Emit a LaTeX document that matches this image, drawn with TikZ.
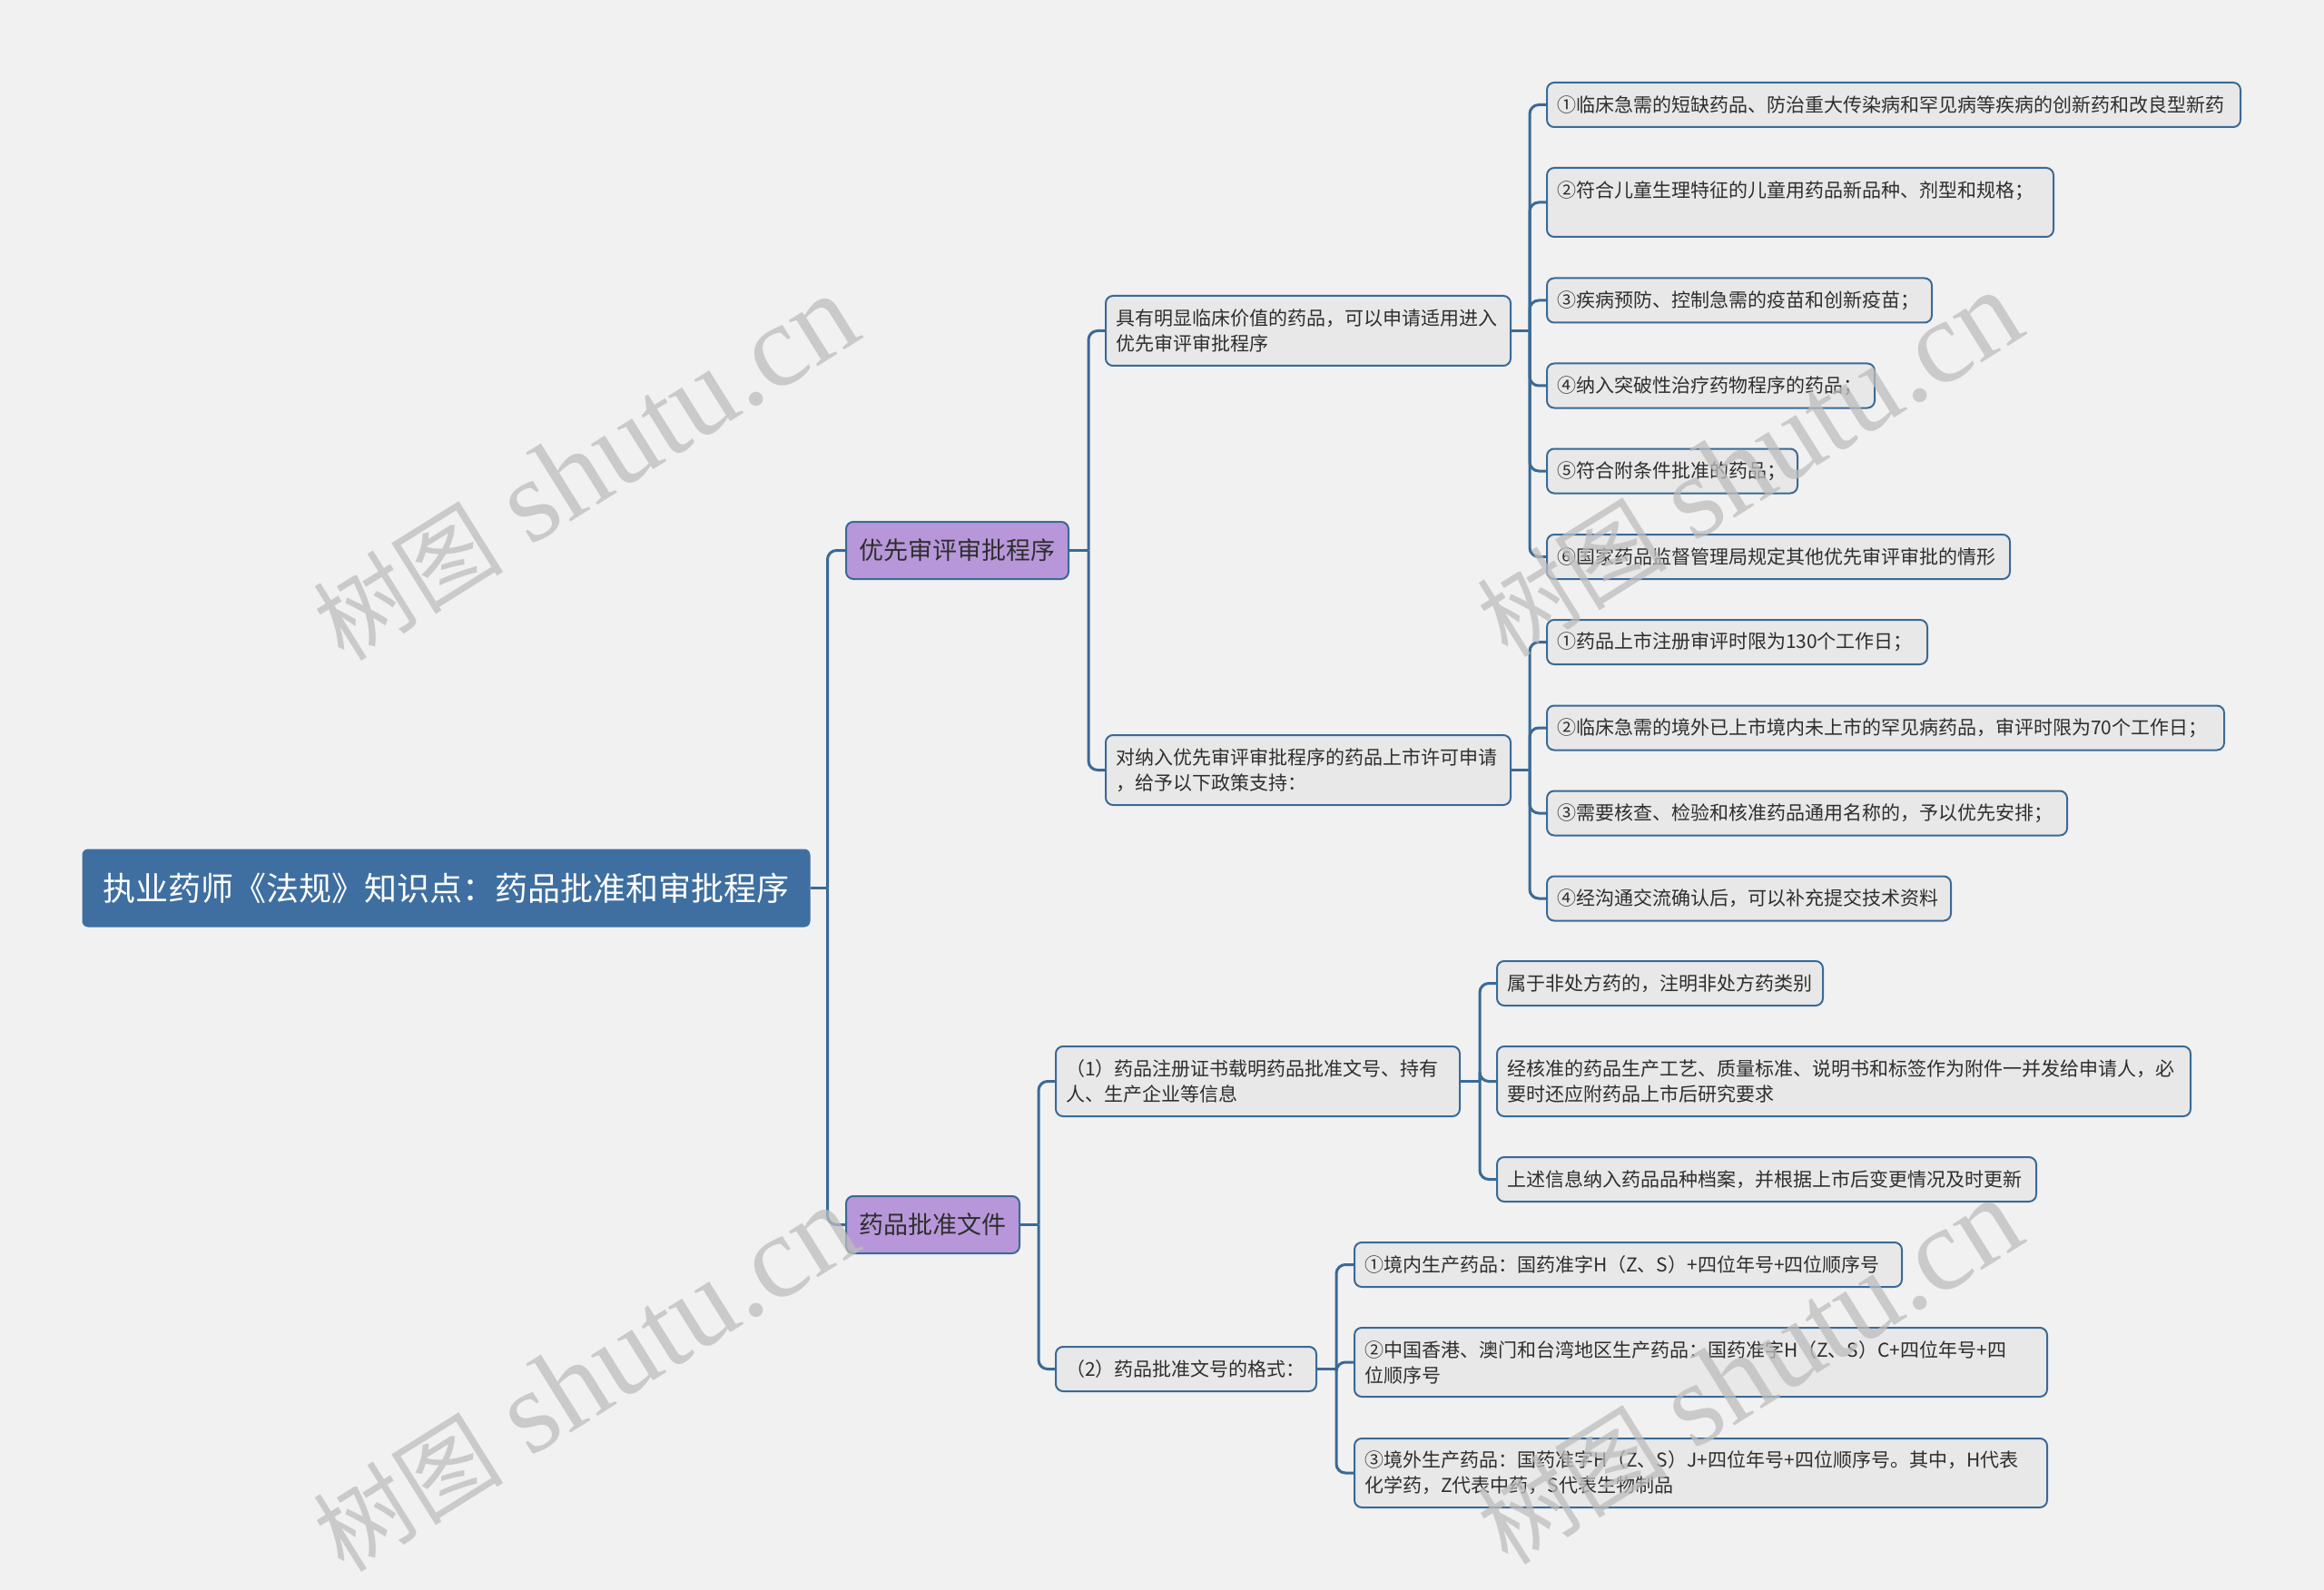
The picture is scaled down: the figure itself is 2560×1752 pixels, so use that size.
\documentclass[tikz,border=0pt]{standalone}
\usepackage{fontspec}
\setmainfont{Noto Sans CJK SC}
\newfontfamily\wmserif{Liberation Serif}
\newfontfamily\wmcjk{Noto Sans CJK SC}
\definecolor{bgc}{HTML}{F1F1F1}
\definecolor{lineblue}{HTML}{3A6A96}
\definecolor{rootblue}{HTML}{3E6FA0}
\definecolor{purplefill}{HTML}{B797D9}
\definecolor{boxfill}{HTML}{E8E8E8}
\definecolor{textc}{HTML}{2E2E2E}
\definecolor{wmgray}{HTML}{BDBDBD}
\begin{document}
\begin{tikzpicture}[x=1pt,y=-1pt,
  leaf/.style={draw=lineblue, line width=2pt, fill=boxfill, rounded corners=8pt,
    inner xsep=11pt, inner ysep=4pt, align=left, text=textc,
    font=\fontsize{21}{28}\selectfont, minimum height=49pt},
  tall/.style={leaf, minimum height=77pt},
  rootbox/.style={fill=rootblue, draw=rootblue, line width=1pt, rounded corners=6pt,
    text=white, font=\fontsize{36}{42}\selectfont, minimum width=801pt, minimum height=85pt},
  lvl/.style={fill=purplefill, draw=lineblue, line width=2pt, rounded corners=8pt,
    text=textc, font=\fontsize{27}{32}\selectfont, minimum height=63pt},
  conn/.style={draw=lineblue, line width=3pt, rounded corners=10pt},
  wm/.style={text=wmgray, opacity=0.75, rotate=32}
]
\fill[bgc] (0,0) rectangle (2560,1752);
\useasboundingbox (0,0) rectangle (2560,1752);

% root and level 1
\node[rootbox] (root) at (491.5,978.5) {执业药师《法规》知识点：药品批准和审批程序};
\node[lvl, minimum width=245pt] (p1) at (1054.5,606.5) {优先审评审批程序};
\node[lvl, minimum width=191pt] (p2) at (1027.5,1349.5) {药品批准文件};

% level 2
\node[tall, minimum width=446pt, text width=424pt] (a) at (1441,364.5)
  {具有明显临床价值的药品，可以申请适用进入\\优先审评审批程序};
\node[tall, minimum width=446pt, text width=424pt] (b) at (1441,848.5)
  {对纳入优先审评审批程序的药品上市许可申请\\，给予以下政策支持：};
\node[tall, minimum width=445pt, text width=423pt] (c) at (1385.5,1191.5)
  {（1）药品注册证书载明药品批准文号、持有\\人、生产企业等信息};
\node[leaf, minimum width=287pt, text width=265pt] (d) at (1306.5,1508.5)
  {（2）药品批准文号的格式：};

% leaves of a
\node[leaf, minimum width=764pt, text width=742pt] (a1) at (2086,115.5)
  {①临床急需的短缺药品、防治重大传染病和罕见病等疾病的创新药和改良型新药};
\node[tall, minimum height=76pt, minimum width=558pt, text width=536pt] (a2) at (1983,223)
  {②符合儿童生理特征的儿童用药品新品种、剂型和规格；\\\mbox{}};
\node[leaf, minimum width=424pt, text width=402pt] (a3) at (1916,331)
  {③疾病预防、控制急需的疫苗和创新疫苗；};
\node[leaf, minimum width=361pt, text width=339pt] (a4) at (1884.5,425)
  {④纳入突破性治疗药物程序的药品；};
\node[leaf, minimum width=276pt, text width=254pt] (a5) at (1842,519)
  {⑤符合附条件批准的药品；};
\node[leaf, minimum width=510pt, text width=488pt] (a6) at (1959,613.5)
  {⑥国家药品监督管理局规定其他优先审评审批的情形};

% leaves of b
\node[leaf, minimum width=419pt, text width=397pt] (b1) at (1913.5,707.5)
  {①药品上市注册审评时限为130个工作日；};
\node[leaf, minimum width=746pt, text width=724pt] (b2) at (2077,802)
  {②临床急需的境外已上市境内未上市的罕见病药品，审评时限为70个工作日；};
\node[leaf, minimum width=573pt, text width=551pt] (b3) at (1990.5,896)
  {③需要核查、检验和核准药品通用名称的，予以优先安排；};
\node[leaf, minimum width=445pt, text width=423pt] (b4) at (1926.5,990)
  {④经沟通交流确认后，可以补充提交技术资料};

% leaves of c
\node[leaf, minimum width=359pt, text width=337pt] (c1) at (1828.5,1083.5)
  {属于非处方药的，注明非处方药类别};
\node[tall, minimum width=764pt, text width=742pt] (c2) at (2031,1191.5)
  {经核准的药品生产工艺、质量标准、说明书和标签作为附件一并发给申请人，必\\要时还应附药品上市后研究要求};
\node[leaf, minimum width=594pt, text width=572pt] (c3) at (1946,1299.5)
  {上述信息纳入药品品种档案，并根据上市后变更情况及时更新};

% leaves of d
\node[leaf, minimum width=603pt, text width=581pt] (d1) at (1793.5,1393.5)
  {①境内生产药品：国药准字H（Z、S）+四位年号+四位顺序号};
\node[tall, minimum height=76pt, minimum width=763pt, text width=741pt] (d2) at (1873.5,1501)
  {②中国香港、澳门和台湾地区生产药品：国药准字H（Z、S）C+四位年号+四\\位顺序号};
\node[tall, minimum height=76pt, minimum width=763pt, text width=741pt] (d3) at (1873.5,1623)
  {③境外生产药品：国药准字H（Z、S）J+四位年号+四位顺序号。其中，H代表\\化学药，Z代表中药，S代表生物制品};

% connectors
\draw[conn, rounded corners=0pt] (root.east) -- ++(19,0) coordinate (rT);
\foreach \ch in {p1,p2} \draw[conn] (rT) |- (\ch.west);
\draw[conn, rounded corners=0pt] (p1.east) -- ++(21,0) coordinate (p1T);
\foreach \ch in {a,b} \draw[conn] (p1T) |- (\ch.west);
\draw[conn, rounded corners=0pt] (p2.east) -- ++(20,0) coordinate (p2T);
\foreach \ch in {c,d} \draw[conn] (p2T) |- (\ch.west);
\draw[conn, rounded corners=0pt] (a.east) -- ++(20,0) coordinate (aT);
\foreach \ch in {a1,a2,a3,a4,a5,a6} \draw[conn] (aT) |- (\ch.west);
\draw[conn, rounded corners=0pt] (b.east) -- ++(20,0) coordinate (bT);
\foreach \ch in {b1,b2,b3,b4} \draw[conn] (bT) |- (\ch.west);
\draw[conn, rounded corners=0pt] (c.east) -- ++(21,0) coordinate (cT);
\foreach \ch in {c1,c2,c3} \draw[conn] (cT) |- (\ch.west);
\draw[conn, rounded corners=0pt] (d.east) -- ++(21,0) coordinate (dT);
\foreach \ch in {d1,d2,d3} \draw[conn] (dT) |- (\ch.west);

% watermarks
\newcommand{\wmtext}{{\wmcjk\fontsize{105}{115}\selectfont 树图}\hspace{30pt}{\wmserif\fontsize{130}{140}\selectfont shutu.cn}}
\node[wm] (w1) at (645,516) {\wmtext};
\node[wm] (w2) at (1927,512) {\wmtext};
\node[wm] (w3) at (645,1520) {\wmtext};
\node[wm] (w4) at (1927,1512) {\wmtext};
\end{tikzpicture}
\end{document}
